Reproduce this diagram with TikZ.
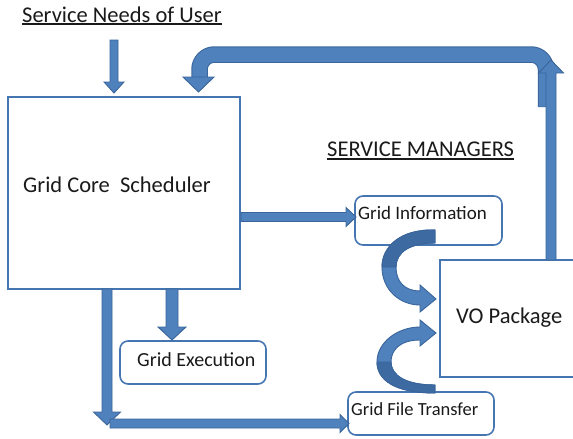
\documentclass[tikz,border=0pt]{standalone}
\usepackage{fontspec}
\setmainfont{Carlito}
\definecolor{afill}{HTML}{4F81BD}
\definecolor{aline}{HTML}{3A659B}
\definecolor{adark}{HTML}{3D6AA1}
\definecolor{bline}{HTML}{4676B2}
\definecolor{txt}{HTML}{1A1A1A}
% down block arrow: x, ytop, ytip, shaft half, head half, head length
\newcommand\blkdown[6]{\draw[blk] (#1-#4,#2) -- (#1+#4,#2) -- (#1+#4,#3-#6) -- (#1+#5,#3-#6) -- (#1,#3) -- (#1-#5,#3-#6) -- (#1-#4,#3-#6) -- cycle;}
% up block arrow: x, ybottom, ytip, shaft half, head half, head length
\newcommand\blkup[6]{\draw[blk] (#1-#4,#2) -- (#1+#4,#2) -- (#1+#4,#3+#6) -- (#1+#5,#3+#6) -- (#1,#3) -- (#1-#5,#3+#6) -- (#1-#4,#3+#6) -- cycle;}
% right block arrow: y, xstart, xtip, shaft half, head half, head length
\newcommand\blkright[6]{\draw[blk] (#2,#1-#4) -- (#2,#1+#4) -- (#3-#6,#1+#4) -- (#3-#6,#1+#5) -- (#3,#1) -- (#3-#6,#1-#5) -- (#3-#6,#1-#4) -- cycle;}
\newcommand\bigfont{\fontsize{22.5}{27}\selectfont}
\newcommand\smallfont{\fontsize{19}{23}\selectfont}
\begin{document}
\begin{tikzpicture}[x=1pt,y=-1pt,
  box/.style={draw=bline, line width=1.6pt, fill=white, inner sep=0pt},
  rbox/.style={box, rounded corners=8pt},
  lbl/.style={text=txt, inner sep=0pt, anchor=base west},
  blk/.style={fill=afill, draw=aline, line width=0.9pt, line join=miter},
  uline/.style={draw=txt, line width=1.1pt}]
\useasboundingbox (0,0) rectangle (573,439);

% boxes
\node[box, minimum width=232pt, minimum height=192pt] (core) at (124,193) {};
\node[rbox, minimum width=147pt, minimum height=49pt] (info) at (428.5,220.5) {};
\node[box, minimum width=150pt, minimum height=117pt] (vo) at (515,318.5) {};
\node[rbox, minimum width=146pt, minimum height=43pt] (exec) at (193,362.5) {};
\node[rbox, minimum width=146pt, minimum height=43pt] (gft) at (421,413.5) {};

% texts
\node[lbl, font=\bigfont] (title) at (22,22) {Service Needs of User};
\draw[uline] ([yshift=-2pt]title.base west) -- ([yshift=-2pt]title.base east);
\node[lbl, font=\bigfont] (mgr) at (327,156) {SERVICE MANAGERS};
\draw[uline] ([yshift=-3pt]mgr.base west) -- ([yshift=-3pt]mgr.base east);
\node[lbl, font=\bigfont] (coret) at (23,192) {Grid Core\ \ Scheduler};
\node[lbl, font=\smallfont] (infot) at (358,219) {Grid Information};
\node[lbl, font=\bigfont] (vot) at (456,323) {VO Package};
\node[lbl, font=\fontsize{20}{24}\selectfont] (exect) at (137,366) {Grid Execution};
\node[lbl, font=\fontsize{18.5}{22}\selectfont] (gftt) at (351,415) {Grid File Transfer};

% return band from VO to core
\draw[aline, line width=16.5pt, rounded corners=15pt] (546,107) -- (546,54.5) -- (199.5,54.5) -- (199.5,77.5);
\draw[afill, line width=14.5pt, rounded corners=15pt] (546,106.5) -- (546,54.5) -- (199.5,54.5) -- (199.5,77.5);
\draw[blk] (183,77) -- (214,77) -- (198.5,92) -- cycle;
% VO up arrow
\blkup{551}{260}{60}{5}{12.5}{13}

% user arrow
\blkdown{114}{40}{93}{4}{10}{11}
% core -> info
\blkright{217}{241}{356}{4.5}{9.5}{10}
% core -> exec
\blkdown{172}{289}{340}{6}{14}{13}
% core -> down -> gft
\blkdown{107}{289}{425}{5}{13.5}{13}
\blkright{423.5}{110}{349}{4.5}{9}{9}

% curved arrow info -> vo
\draw[blk] (435,230) .. controls (400,229) and (382,247) .. (382,267)
  .. controls (382,290) and (400,305) .. (420,305) -- (420,312) -- (436,299) -- (420,285) -- (420,291)
  .. controls (405,291) and (396,282) .. (396,267)
  .. controls (396,252) and (410,243) .. (435,243) -- cycle;
\draw[fill=adark, draw=aline, line width=0.9pt] (435,230) .. controls (400,229) and (382,247) .. (382,267)
  -- (396,267) .. controls (396,252) and (410,243) .. (435,243) -- cycle;
% curved arrow gft -> vo
\draw[blk] (435,393) .. controls (395,393) and (377,380) .. (377,362)
  .. controls (377,342) and (398,327) .. (420,327) -- (420,320) -- (436,333) -- (420,346) -- (420,340)
  .. controls (400,340) and (391,350) .. (391,362)
  .. controls (391,375) and (405,385) .. (435,385) -- cycle;
\draw[fill=adark, draw=aline, line width=0.9pt] (435,393) .. controls (395,393) and (377,380) .. (377,362)
  -- (391,362) .. controls (391,375) and (405,385) .. (435,385) -- cycle;
\end{tikzpicture}
\end{document}
